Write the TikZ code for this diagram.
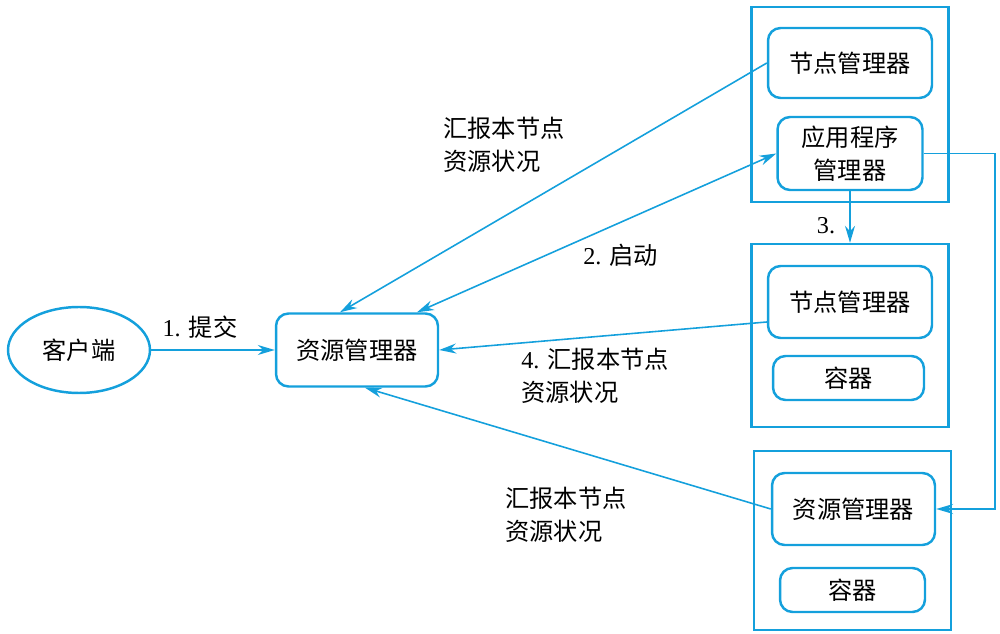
\documentclass[tikz,border=0pt]{standalone}
\usepackage{fontspec}
\setmainfont{Liberation Serif}
\newfontfamily\cjk{Noto Sans CJK SC}
\usetikzlibrary{arrows.meta,shapes.geometric}
\definecolor{lineblue}{RGB}{20,160,220}
\begin{document}
\begin{tikzpicture}[x=0.02cm, y=-0.02cm,
  every node/.style = {font=\fontsize{13.8}{18.5}\selectfont},
  box/.style = {shape=rectangle, rounded corners=2.5mm, draw=lineblue,
    line width=1.4pt, align=center, font=\fontsize{13.8}{18.5}\selectfont\cjk},
  outer/.style = {shape=rectangle, draw=lineblue, line width=1.4pt},
  lbl/.style = {align=left, inner sep=0pt},
  arr/.style = {draw=lineblue, line width=0.9pt,
    -{Stealth[length=3.4mm, width=2mm]}}
  ]
  \useasboundingbox (0,0) rectangle (1000,634);
  % client and resource manager
  \node[box, shape=ellipse, minimum width=2.84cm, minimum height=1.72cm]
    (client) at (79,350) {客户端};
  \node[box, minimum width=3.24cm, minimum height=1.46cm]
    (rm) at (357,350) {资源管理器};
  % first machine
  \node[outer, minimum width=3.94cm, minimum height=3.9cm] (outera) at (850,104.5) {};
  \node[box, minimum width=3.28cm, minimum height=1.4cm] (nma) at (850,63) {节点管理器};
  \node[box, minimum width=2.9cm, minimum height=1.46cm] (am) at (850,153.5) {应用程序\\管理器};
  % second machine
  \node[outer, minimum width=3.94cm, minimum height=3.66cm] (outerb) at (850,335.5) {};
  \node[box, minimum width=3.28cm, minimum height=1.44cm] (nmb) at (850,302) {节点管理器};
  \node[box, minimum width=3.02cm, minimum height=0.88cm] (conb) at (848.5,378) {容器};
  % third machine
  \node[outer, minimum width=3.94cm, minimum height=3.58cm] (outerc) at (852.5,540.5) {};
  \node[box, minimum width=3.26cm, minimum height=1.44cm] (rmc) at (853.5,509) {资源管理器};
  \node[box, minimum width=2.9cm, minimum height=0.88cm] (conc) at (852.5,590) {容器};
  \coordinate (turn) at (995,153.5);
  % connectors
  \draw[arr] (client.east) -- (rm.west);
  \draw[arr] (nma.west) -- ([xshift=-0.34cm]rm.north);
  \draw[arr, {Stealth[length=3.4mm, width=2mm]}-{Stealth[length=3.4mm, width=2mm]}]
    ([xshift=1.2cm]rm.north) -- (am.west);
  \draw[arr] (am.south) -- (outerb.north);
  \draw[arr] (am.east) -- (turn) |- (rmc.east);
  \draw[arr] ([yshift=-0.4cm]nmb.west) -- (rm.east);
  \draw[arr] (rmc.west) -- ([xshift=0.16cm]rm.south);
  % labels
  \node (submit) at (200,327) {1. {\cjk 提交}};
  \node[lbl, anchor=west] (reporta) at (443,145) {\cjk 汇报本节点\\\cjk 资源状况};
  \node[lbl, anchor=west] (start) at (583,255) {2. {\cjk 启动}};
  \node (three) at (826,226) {3.};
  \node[lbl, anchor=west] (reportb) at (521,376) {4. {\cjk 汇报本节点}\\\cjk 资源状况};
  \node[lbl, anchor=west] (reportc) at (505,515) {\cjk 汇报本节点\\\cjk 资源状况};
\end{tikzpicture}
\end{document}
